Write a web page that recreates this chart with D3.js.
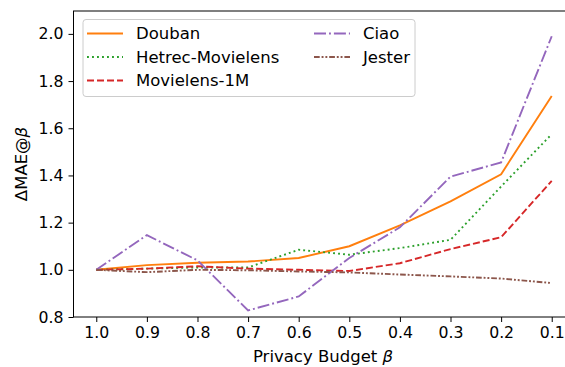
<!DOCTYPE html>
<html>
<head>
<meta charset="utf-8">
<script src="https://cdn.jsdelivr.net/npm/d3@7"></script>
<style>
  html, body { margin: 0; padding: 0; background: #fff; }
  svg { display: block; font-family: "DejaVu Sans", sans-serif; }
</style>
</head>
<body>
<div id="chart"></div>
<script>
const budgets = [1.0, 0.9, 0.8, 0.7, 0.6, 0.5, 0.4, 0.3, 0.2, 0.1];
const douban  = [1.0, 1.02, 1.03, 1.035, 1.05, 1.10, 1.188, 1.29, 1.405, 1.737];
const hetrec  = [1.0, 1.005, 1.01, 1.01, 1.085, 1.064, 1.092, 1.127, 1.353, 1.575];
const ml1m    = [1.0, 1.005, 1.015, 1.005, 1.0, 0.995, 1.028, 1.088, 1.138, 1.377];
const ciao    = [1.0, 1.147, 1.04, 0.828, 0.887, 1.05, 1.18, 1.395, 1.455, 1.99];
const jester  = [1.0, 0.99, 1.0, 0.998, 0.993, 0.989, 0.98, 0.972, 0.963, 0.944];
const xTicks = [1.0, 0.9, 0.8, 0.7, 0.6, 0.5, 0.4, 0.3, 0.2, 0.1];
const yTicks = [0.8, 1.0, 1.2, 1.4, 1.6, 1.8, 2.0];
const seriesNames = ["Douban", "Hetrec-Movielens", "Movielens-1M", "Ciao", "Jester"];
const seriesValues = [douban, hetrec, ml1m, ciao, jester];
const colors = ["#ff7f0e", "#2ca02c", "#d62728", "#9467bd", "#8c564b"];
const dashes = ["none", "1.9,3.1", "7,3", "12,3,1.9,3", "5.7,1.9,1.9,1.9,1.9,1.9"];

const W = 565, H = 367;
const L = 73.5, R = 574.5, T = 11, B = 317;

const svg = d3.select("#chart").append("svg").attr("width", W).attr("height", H);

const x = d3.scaleLinear().domain([1.045, 0.055]).range([L, R]);
const y = d3.scaleLinear().domain([0.8, 2.097]).range([B, T]);

// lines
const clip = svg.append("clipPath").attr("id", "clip").append("rect")
  .attr("x", L).attr("y", T).attr("width", R - L).attr("height", B - T);
const plot = svg.append("g").attr("clip-path", "url(#clip)");
const line = d3.line().x((d, i) => x(budgets[i])).y(d => y(d));
seriesValues.forEach((vals, k) => {
  plot.append("path").datum(vals)
    .attr("d", line)
    .attr("fill", "none")
    .attr("stroke", colors[k])
    .attr("stroke-width", 1.9)
    .attr("stroke-dasharray", dashes[k]);
});

// axes
const xAxis = svg.append("g").attr("transform", `translate(0,${B})`)
  .call(d3.axisBottom(x).tickValues(xTicks).tickFormat(d3.format(".1f")).tickSize(5).tickPadding(5).tickSizeOuter(0));
const yAxis = svg.append("g").attr("transform", `translate(${L},0)`)
  .call(d3.axisLeft(y).tickValues(yTicks).tickFormat(d3.format(".1f")).tickSize(5).tickPadding(5).tickSizeOuter(0));
[xAxis, yAxis].forEach(g => {
  g.selectAll("text").attr("font-size", 15.7).attr("fill", "#000").attr("font-family", "DejaVu Sans");
  g.selectAll("line").attr("stroke", "#000").attr("stroke-width", 1);
  g.select(".domain").remove();
});

// spines
svg.append("rect").attr("x", L).attr("y", T).attr("width", R - L).attr("height", B - T)
  .attr("fill", "none").attr("stroke", "#000").attr("stroke-width", 1);

// axis labels
svg.append("text").attr("x", 323).attr("y", 362)
  .attr("text-anchor", "middle").attr("font-size", 16.5)
  .text("Privacy Budget ")
  .append("tspan").attr("font-style", "italic").text("β");
svg.append("text")
  .attr("transform", `translate(27,${(T + B) / 2}) rotate(-90)`)
  .attr("text-anchor", "middle").attr("font-size", 16.5)
  .text("ΔMAE@")
  .append("tspan").attr("font-style", "italic").text("β");

// legend
const leg = svg.append("g");
leg.append("rect").attr("x", 83).attr("y", 19.5).attr("width", 332).attr("height", 77)
  .attr("rx", 3).attr("fill", "#fff").attr("fill-opacity", 0.8)
  .attr("stroke", "#cccccc").attr("stroke-width", 1);
const legPos = [[87, 33.5], [87, 57], [87, 80.5], [314, 33.5], [314, 57]];
seriesNames.forEach((name, k) => {
  const [lx, ly] = legPos[k];
  leg.append("line").attr("x1", lx).attr("x2", lx + 36).attr("y1", ly).attr("y2", ly)
    .attr("stroke", colors[k]).attr("stroke-width", 1.9).attr("stroke-dasharray", dashes[k]);
  leg.append("text").attr("x", lx + 49).attr("y", ly).attr("dy", "0.36em")
    .attr("font-size", 16.5).attr("fill", "#000").text(name);
});
</script>
</body>
</html>
